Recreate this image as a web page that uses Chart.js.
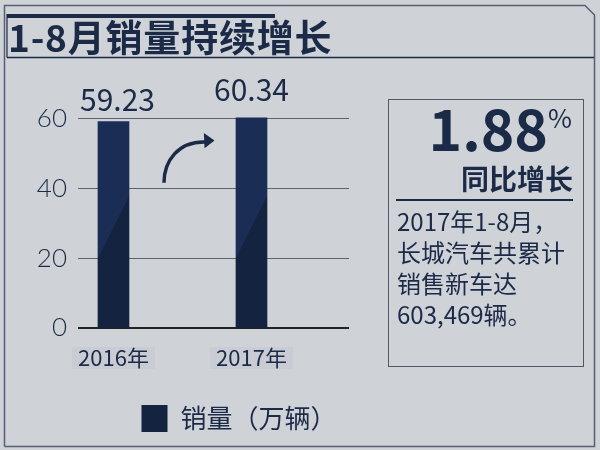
<!DOCTYPE html>
<html>
<head>
<meta charset="utf-8">
<script src="https://cdn.jsdelivr.net/npm/chart.js@4/dist/chart.umd.min.js"></script>
<style>
  html, body { margin: 0; padding: 0; }
  body {
    width: 600px; height: 450px; position: relative; overflow: hidden;
    background: #cfd2d7; color: #1b2a47;
    font-family: 'Noto Sans CJK SC', 'Noto Sans', sans-serif;
  }
  #frame { position: absolute; left: 0; top: 0; z-index: 0; }
  #wrap { position: absolute; left: 0; top: 0; width: 478px; height: 450px; z-index: 1; }
  .abs { position: absolute; line-height: 1; white-space: nowrap; z-index: 2; }
  #titleBar { position: absolute; left: 7px; top: 14px; width: 268px; height: 4px; background: #1b2a47; }
  #title { left: 8px; top: 18px; font-size: 37px; font-weight: bold; letter-spacing: 0.8px; }
  #box {
    position: absolute; left: 388px; top: 99px; width: 194px; height: 266px;
    border: 1.5px solid #4f5768; z-index: 2;
  }
  #pct { left: 0; width: 548px; text-align: right; top: 98px; font-size: 57px; font-weight: bold; }
  #pctSign { left: 548px; top: 104px; font-size: 26px; }
  #yoy { left: 0; width: 573px; text-align: right; top: 164px; font-size: 28px; font-weight: bold; }
  #rule { position: absolute; left: 396px; top: 199px; width: 177px; height: 2px; background: #1b2a47; z-index: 2; }
  #note { position: absolute; left: 397px; top: 205px; font-size: 24px; line-height: 31px; z-index: 2; }
</style>
</head>
<body>
<svg id="frame" width="600" height="450">
  <polyline points="4.5,446.5 4.5,5.5 585,5.5 594.5,15 594.5,446.5 4.5,446.5" fill="none" stroke="#566072" stroke-width="1.5"/>
  <line x1="7" y1="57.5" x2="594" y2="57.5" stroke="#1b2a47" stroke-width="1.5"/>
  <line x1="7" y1="14" x2="7" y2="57.5" stroke="#1b2a47" stroke-width="1.2"/>
</svg>
<div id="titleBar"></div>
<div id="title" class="abs">1-8月销量持续增长</div>
<div id="wrap"><canvas id="chart"></canvas></div>
<div id="box"></div>
<div id="pct" class="abs">1.88</div>
<div id="pctSign" class="abs">%</div>
<div id="yoy" class="abs">同比增长</div>
<div id="rule"></div>
<div id="note">2017年1-8月，<br>长城汽车共累计<br>销售新车达<br>603,469辆。</div>
<script>
const years = ['2016年', '2017年'];
const sales = [59.23, 60.34];
const yTicks = [0, 20, 40, 60];
const seriesName = '销量（万辆）';

const navy = '#1b2a47';
const fontCJK = "'Noto Sans CJK SC', 'Noto Sans', sans-serif";

// two-tone fill split along a diagonal, like the original bars
function barFill(c) {
  const chart = c.chart;
  if (c.dataIndex === undefined || !chart.chartArea) return '#172a4c';
  const sx = chart.scales.x, sy = chart.scales.y;
  const cx = sx.getPixelForValue(c.dataIndex + 1);
  const x0 = cx - 15.5, x1 = cx + 15.5;
  const y0 = sy.getPixelForValue(20), y1 = sy.getPixelForValue(38);
  const mx = (x0 + x1) / 2, my = (y0 + y1) / 2;
  let nx = y0 - y1, ny = x1 - x0;
  const len = Math.hypot(nx, ny);
  nx = nx / len * 10; ny = ny / len * 10;
  const g = chart.ctx.createLinearGradient(mx - nx, my - ny, mx + nx, my + ny);
  g.addColorStop(0, '#1a2e55');
  g.addColorStop(0.5, '#1a2e55');
  g.addColorStop(0.5, '#132340');
  g.addColorStop(1, '#132340');
  return g;
}

const valueLabels = {
  id: 'valueLabels',
  afterDatasetsDraw(chart) {
    const ctx = chart.ctx;
    const meta = chart.getDatasetMeta(0);
    ctx.save();
    ctx.fillStyle = navy;
    ctx.font = '30px ' + fontCJK;
    ctx.textAlign = 'center';
    ctx.textBaseline = 'alphabetic';
    meta.data.forEach((bar, i) => {
      ctx.fillText(sales[i].toFixed(2), bar.x + (i === 0 ? 4 : 0), bar.y - (i === 0 ? 11 : 17));
    });
    ctx.restore();
  }
};

const curvedArrow = {
  id: 'curvedArrow',
  afterDatasetsDraw(chart) {
    const {ctx, scales: {x, y}} = chart;
    const px = v => x.getPixelForValue(v);
    const py = v => y.getPixelForValue(v);
    ctx.save();
    ctx.strokeStyle = navy;
    ctx.fillStyle = navy;
    ctx.lineWidth = 3.5;
    ctx.beginPath();
    ctx.moveTo(px(1.366), py(41.7));
    ctx.bezierCurveTo(px(1.366), py(48), px(1.47), py(53.6), px(1.665), py(53.4));
    ctx.stroke();
    ctx.beginPath();
    ctx.moveTo(px(1.732), py(53.8));
    ctx.lineTo(px(1.655), py(56.0));
    ctx.lineTo(px(1.66), py(51.6));
    ctx.closePath();
    ctx.fill();
    ctx.restore();
  }
};

new Chart(document.getElementById('chart'), {
  type: 'bar',
  data: {
    datasets: [{
      label: seriesName,
      data: sales.map((v, i) => ({x: i + 1, y: v})),
      backgroundColor: barFill,
      borderWidth: 0,
      barThickness: 31
    }]
  },
  options: {
    responsive: true,
    maintainAspectRatio: false,
    animation: false,
    layout: { padding: { top: 112, bottom: 8, left: 0, right: 0 } },
    scales: {
      x: {
        type: 'linear',
        offset: false,
        min: 0.743,
        max: 2.7065,
        grid: { display: false, drawTicks: false, offset: false },
        border: { display: false },
        afterBuildTicks: s => { s.ticks = years.map((_, i) => ({value: i + 1})); },
        afterFit: s => { s.height = 67; },
        ticks: {
          callback: (v, i) => years[i],
          color: navy,
          font: { family: fontCJK, size: 22, lineHeight: 1 },
          padding: 19,
          maxRotation: 0,
          showLabelBackdrop: true,
          backdropColor: '#c9cdd3',
          backdropPadding: { x: 6, y: 0 }
        }
      },
      y: {
        min: 0,
        max: 62,
        grid: {
          drawTicks: false,
          color: c => c.tick && c.tick.value === 0 ? '#1e232c' : '#5c6270',
          lineWidth: c => c.tick && c.tick.value === 0 ? 2 : 1
        },
        border: { display: false },
        afterBuildTicks: s => { s.ticks = yTicks.map(v => ({value: v})); },
        afterFit: s => { s.width = 78; },
        ticks: {
          color: navy,
          font: { family: "Lato, 'Noto Sans', sans-serif", size: 26, weight: 300 },
          padding: 11
        }
      },
      y2: {
        position: 'right',
        grid: { display: false, drawTicks: false },
        border: { display: false },
        ticks: { display: false },
        afterFit: s => { s.width = 129; }
      }
    },
    plugins: {
      legend: {
        position: 'bottom',
        labels: {
          color: navy,
          font: { family: fontCJK, size: 26 },
          boxWidth: 26,
          boxHeight: 27,
          padding: 10
        }
      },
      tooltip: { enabled: false }
    }
  },
  plugins: [valueLabels, curvedArrow]
});
</script>
</body>
</html>
